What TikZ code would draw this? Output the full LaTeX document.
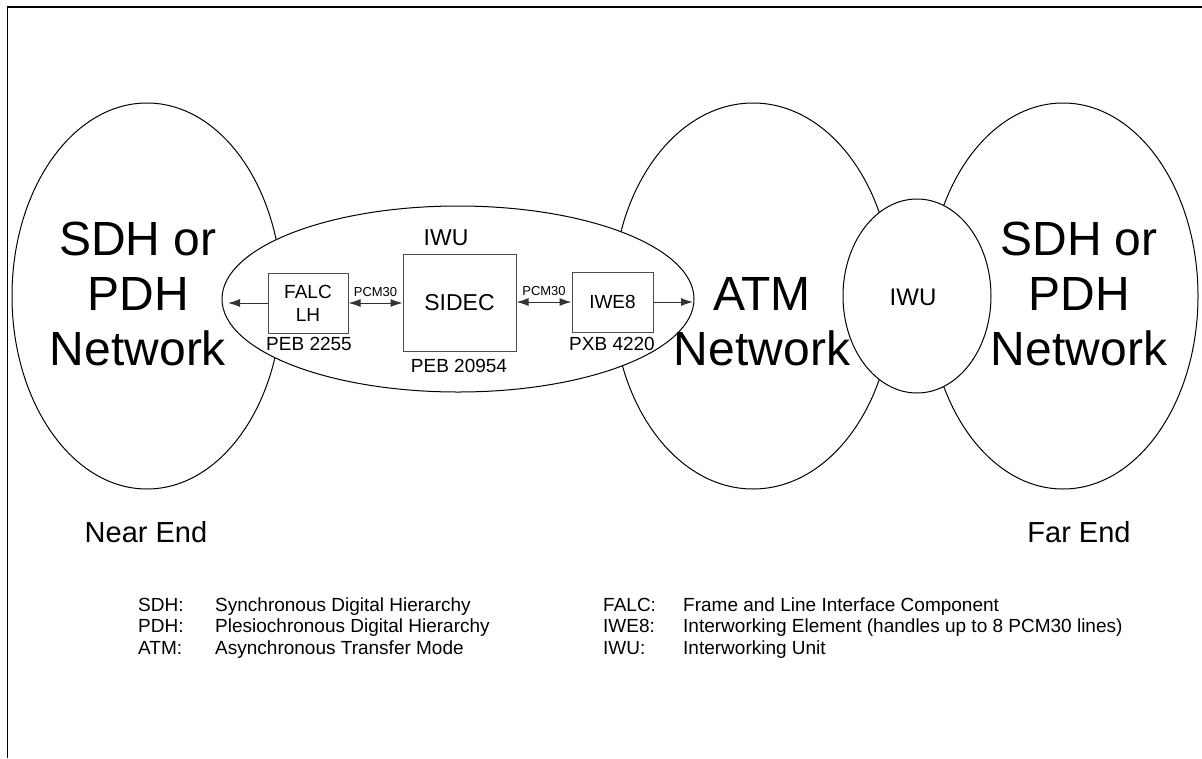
\documentclass[tikz,border=0pt]{standalone}
\usepackage{fontspec}
\setmainfont{Liberation Sans}
\usetikzlibrary{shapes.geometric,arrows.meta}
\newcommand{\drawnet}{\node[draw,ellipse,line width=1pt,inner sep=0pt,fill=white]}
\newcommand{\drawchip}{\node[draw=black!70,rectangle,line width=1pt,inner sep=0pt,align=center,font=\fontsize{19}{23}\selectfont]}
\newcommand{\drawbig}{\node[inner sep=0pt,align=center,font=\fontsize{48}{55}\selectfont]}
\newcommand{\drawtext}{\node[inner sep=0pt]}
\newcommand{\drawdummy}{\coordinate}

\begin{document}
\begin{tikzpicture}[x=1pt, y=-1pt, >={Latex[length=12pt,width=8pt]},
  every node/.style={font=\fontsize{19}{23}\selectfont}]
\useasboundingbox (0,0) rectangle (1202,758);
\draw[line width=1.5pt] (7.5,758) -- (7.5,7) -- (1202,7);

%networks
\drawnet (nearNet) at (147,296) [minimum width=270pt, minimum height=386pt] {};
\drawnet (atmNet) at (753,296) [minimum width=280pt, minimum height=386pt] {};
\drawnet (farNet) at (1063,296) [minimum width=270pt, minimum height=386pt] {};
\drawnet (iwuSmall) at (917,296) [minimum width=148pt, minimum height=194pt] {};
\drawnet (iwuBig) at (458,299) [minimum width=472pt, minimum height=186pt] {};

\drawbig (nearText) at (138,294) {SDH or\\PDH\\Network};
\drawbig (atmText) at (762,321.5) {ATM\\Network};
\drawbig (farText) at (1079,294) {SDH or\\PDH\\Network};
\drawtext (iwuSmallText) at (913,297) [font=\fontsize{24}{28}\selectfont] {IWU};
\drawtext (iwuBigText) at (446,238) [font=\fontsize{23}{27}\selectfont] {IWU};

%chips inside the IWU
\drawchip (falc) at (308,303) [minimum width=80pt, minimum height=60pt] {FALC\\LH};
\drawchip (sidec) at (459.5,302.5) [minimum width=113pt, minimum height=97pt, font=\fontsize{23}{27}\selectfont] {SIDEC};
\drawchip (iwe) at (612.5,302) [minimum width=81pt, minimum height=60pt] {IWE8};
\drawtext (falcPart) at (309,344) {PEB 2255};
\drawtext (sidecPart) at (459,366) {PEB 20954};
\drawtext (iwePart) at (612,344) {PXB 4220};

\drawdummy (falcOut) at (228,303);
\drawdummy (iweOut) at (693,302);

\draw[->, black!80, line width=1pt] (falc.west) -- (falcOut);
\draw[<->, black!80, line width=1pt] (falc.east) -- node[above=6pt, inner sep=0pt, black, font=\fontsize{13}{15}\selectfont] {PCM30} (falc.east -| sidec.west);
\draw[<->, black!80, line width=1pt] (sidec.east |- iwe.west) -- node[above=6pt, inner sep=0pt, black, font=\fontsize{13}{15}\selectfont] {PCM30} (iwe.west);
\draw[->, black!80, line width=1pt] (iwe.east) -- (iweOut);

\drawtext (nearEnd) at (146,532) [font=\fontsize{29}{33}\selectfont] {Near End};
\drawtext (farEnd) at (1079,532) [font=\fontsize{29}{33}\selectfont] {Far End};

%legend
\drawtext (abSDH) at (138,611) [anchor=base west] {SDH:};
\drawtext (abPDH) at (138,632.5) [anchor=base west] {PDH:};
\drawtext (abATM) at (138,654) [anchor=base west] {ATM:};
\drawtext (exSDH) at (215,611) [anchor=base west] {Synchronous Digital Hierarchy};
\drawtext (exPDH) at (215,632.5) [anchor=base west] {Plesiochronous Digital Hierarchy};
\drawtext (exATM) at (215,654) [anchor=base west] {Asynchronous Transfer Mode};
\drawtext (abFALC) at (603,611) [anchor=base west] {FALC:};
\drawtext (abIWE) at (603,632.5) [anchor=base west] {IWE8:};
\drawtext (abIWU) at (603,654) [anchor=base west] {IWU:};
\drawtext (exFALC) at (683,611) [anchor=base west] {Frame and Line Interface Component};
\drawtext (exIWE) at (683,632.5) [anchor=base west] {Interworking Element (handles up to 8 PCM30 lines)};
\drawtext (exIWU) at (683,654) [anchor=base west] {Interworking Unit};
\end{tikzpicture}
\end{document}
